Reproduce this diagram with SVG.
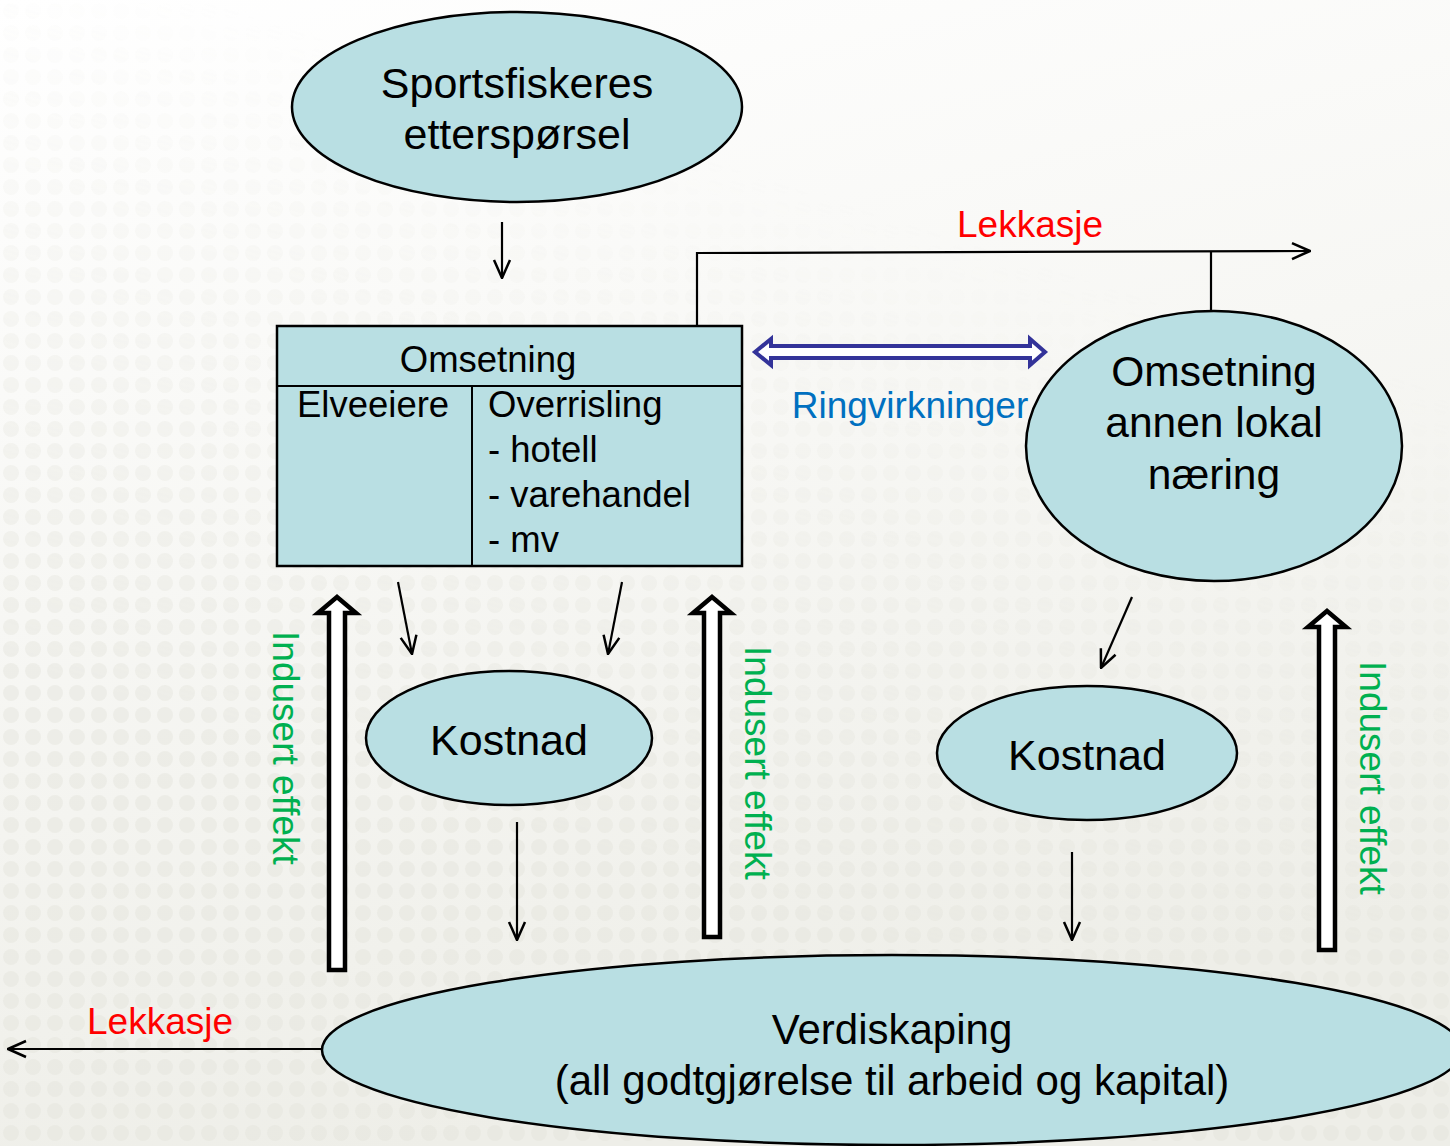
<svg xmlns="http://www.w3.org/2000/svg" width="1450" height="1146" viewBox="0 0 1450 1146">
<style>
.node{fill:#B9DFE3;stroke:#000;stroke-width:2.5}
.t{font-family:"Liberation Sans",Arial,sans-serif;fill:#000}
.conn{stroke:#000;stroke-width:2.2;fill:none}
.red{font-family:"Liberation Sans",Arial,sans-serif;fill:#FF0000;font-size:37px}
.green{font-family:"Liberation Sans",Arial,sans-serif;fill:#00B050;font-size:37px}
.hollow{fill:#fff;stroke:#000;stroke-width:4.5;stroke-linejoin:miter}
</style>
<defs>
<marker id="ahL" viewBox="0 0 20 20" refX="19" refY="10" markerWidth="20" markerHeight="20" markerUnits="userSpaceOnUse" orient="auto">
<path d="M1,2 L19,10 L1,18" fill="none" stroke="#000" stroke-width="2.5"/>
</marker>
<linearGradient id="bg" x1="0" y1="0" x2="0.3" y2="1">
<stop offset="0" stop-color="#ffffff"/>
<stop offset="0.5" stop-color="#f7f7f4"/>
<stop offset="1" stop-color="#eeeee8"/>
</linearGradient>
<pattern id="dots" width="22" height="22" patternUnits="userSpaceOnUse">
<circle cx="11" cy="11" r="8" fill="#e4e4dc"/>
</pattern>
<linearGradient id="fade" x1="0.6" y1="0" x2="0.2" y2="1">
<stop offset="0.15" stop-color="#fff" stop-opacity="0"/>
<stop offset="0.7" stop-color="#fff" stop-opacity="1"/>
</linearGradient>
<mask id="m">
<rect width="1450" height="1146" fill="url(#fade)"/>
</mask>
</defs>
<rect width="1450" height="1146" fill="url(#bg)"/>
<rect width="1450" height="1146" fill="url(#dots)" opacity="0.45" mask="url(#m)"/>

<g id="connectors">
<line class="conn" x1="502" y1="222" x2="502" y2="278" marker-end="url(#ahL)"/>
<polyline class="conn" points="697,326 697,253 1310,251" marker-end="url(#ahL)"/>
<line class="conn" x1="1211" y1="251" x2="1211" y2="312"/>
<line class="conn" x1="398" y1="582" x2="412" y2="654" marker-end="url(#ahL)"/>
<line class="conn" x1="622" y1="582" x2="608" y2="654" marker-end="url(#ahL)"/>
<line class="conn" x1="1132" y1="597" x2="1101" y2="668" marker-end="url(#ahL)"/>
<line class="conn" x1="517" y1="822" x2="517" y2="940" marker-end="url(#ahL)"/>
<line class="conn" x1="1072" y1="852" x2="1072" y2="940" marker-end="url(#ahL)"/>
<line class="conn" x1="322" y1="1049" x2="8" y2="1049" marker-end="url(#ahL)"/>
<polygon points="755,352 771,339 771,346 1030,346 1030,339 1045,352 1030,365 1030,358 771,358 771,365" fill="#fff" stroke="#333399" stroke-width="4"/>
<polygon class="hollow" points="337,597 356,613 345,613 345,970 329,970 329,613 318,613"/>
<polygon class="hollow" points="712,597 731,613 720,613 720,937 704,937 704,613 693,613"/>
<polygon class="hollow" points="1327,611 1346,627 1335,627 1335,950 1319,950 1319,627 1308,627"/>
<text class="red" x="1030" y="237" text-anchor="middle">Lekkasje</text>
<text class="red" x="160" y="1034" text-anchor="middle">Lekkasje</text>
<text x="910" y="418" text-anchor="middle" font-family="Liberation Sans, Arial, sans-serif" font-size="37" fill="#0070C0">Ringvirkninger</text>
<text class="green" transform="translate(285,748) rotate(90)" text-anchor="middle" dominant-baseline="central">Indusert effekt</text>
<text class="green" transform="translate(757,763) rotate(90)" text-anchor="middle" dominant-baseline="central">Indusert effekt</text>
<text class="green" transform="translate(1372,778) rotate(90)" text-anchor="middle" dominant-baseline="central">Indusert effekt</text>
</g>

<g id="node-etterspørsel">
<ellipse class="node" cx="517" cy="107" rx="225" ry="95"/>
<text class="t" x="517" y="98" text-anchor="middle" font-size="43">Sportsfiskeres</text>
<text class="t" x="517" y="149" text-anchor="middle" font-size="43">etterspørsel</text>
</g>

<g id="node-omsetning">
<rect class="node" x="277" y="326" width="465" height="240" stroke-width="2"/>
<line x1="277" y1="386" x2="742" y2="386" stroke="#000" stroke-width="2"/>
<line x1="472" y1="386" x2="472" y2="566" stroke="#000" stroke-width="2"/>
<text class="t" x="488" y="372" text-anchor="middle" font-size="36.5">Omsetning</text>
<text class="t" x="297" y="417" font-size="36.5">Elveeiere</text>
<text class="t" x="488" y="417" font-size="36.5">Overrisling</text>
<text class="t" x="488" y="462" font-size="36.5">- hotell</text>
<text class="t" x="488" y="507" font-size="36.5">- varehandel</text>
<text class="t" x="488" y="552" font-size="36.5">- mv</text>
</g>

<g id="node-annen">
<ellipse class="node" cx="1214" cy="446" rx="188" ry="135"/>
<text class="t" x="1214" y="386" text-anchor="middle" font-size="42.5">Omsetning</text>
<text class="t" x="1214" y="437" text-anchor="middle" font-size="42.5">annen lokal</text>
<text class="t" x="1214" y="489" text-anchor="middle" font-size="42.5">næring</text>
</g>

<g id="node-kostnad1">
<ellipse class="node" cx="509" cy="738" rx="143" ry="67"/>
<text class="t" x="509" y="755" text-anchor="middle" font-size="43">Kostnad</text>
</g>

<g id="node-kostnad2">
<ellipse class="node" cx="1087" cy="753" rx="150" ry="67"/>
<text class="t" x="1087" y="770" text-anchor="middle" font-size="43">Kostnad</text>
</g>

<g id="node-verdiskaping">
<ellipse class="node" cx="892" cy="1050" rx="570" ry="95"/>
<text class="t" x="892" y="1044" text-anchor="middle" font-size="42">Verdiskaping</text>
<text class="t" x="892" y="1095" text-anchor="middle" font-size="42">(all godtgjørelse til arbeid og kapital)</text>
</g>
</svg>
